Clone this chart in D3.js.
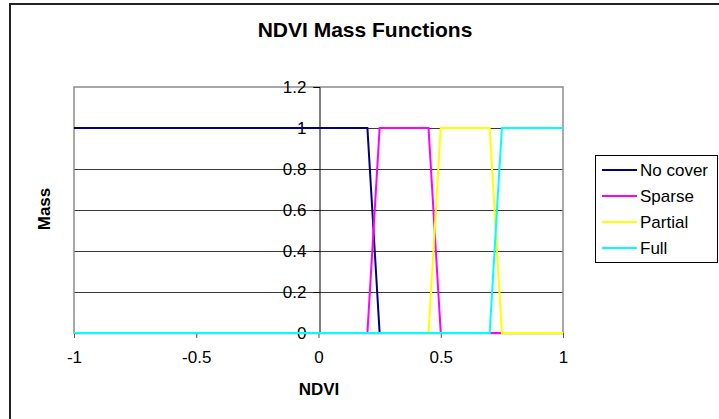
<!DOCTYPE html>
<html><head><meta charset="utf-8">
<script src="https://cdn.jsdelivr.net/npm/d3@7"></script>
<style>body{margin:0;background:#fff}svg{display:block}text{font-family:"Liberation Sans",Arial,sans-serif}</style>
</head><body>
<svg id="c" width="719" height="419"></svg>
<script>
const xTicks = [-1, -0.5, 0, 0.5, 1];
const yTicks = [0, 0.2, 0.4, 0.6, 0.8, 1, 1.2];
const seriesNames = ["No cover", "Sparse", "Partial", "Full"];
const seriesColors = ["#000080", "#FF00FF", "#FFFF00", "#00FFFF"];
const noCover = [[-1,1],[0.2,1],[0.25,0],[1,0]];
const sparse = [[-1,0],[0.2,0],[0.25,1],[0.45,1],[0.5,0],[1,0]];
const partial = [[-1,0],[0.45,0],[0.5,1],[0.7,1],[0.75,0],[1,0]];
const full = [[-1,0],[0.7,0],[0.75,1],[1,1]];
const seriesData = [noCover, sparse, partial, full];

const svg = d3.select("#c");
const L = 74, R = 563, T = 87, B = 333;
const x = d3.scaleLinear().domain([-1,1]).range([L,R]);
const y = d3.scaleLinear().domain([0,1.2]).range([B,T]);

// outer border (left/top visible)
svg.append("rect").attr("x",10).attr("y",4).attr("width",730).attr("height",440)
  .attr("fill","#fff").attr("stroke","#222").attr("stroke-width",2);

// title
svg.append("text").attr("x",365).attr("y",37).attr("text-anchor","middle")
  .attr("font-size",21).attr("font-weight","bold").text("NDVI Mass Functions");

// gridlines
svg.append("g").selectAll("line").data(yTicks.filter(d=>d>0 && d<1.2)).join("line")
  .attr("x1",L).attr("x2",R).attr("y1",d=>Math.round(y(d))+0.5).attr("y2",d=>Math.round(y(d))+0.5)
  .attr("stroke","#3a3a3a").attr("stroke-width",1);

// plot area border
svg.append("rect").attr("x",L).attr("y",T).attr("width",R-L).attr("height",B-T)
  .attr("fill","none").attr("stroke","#8c8c8c").attr("stroke-width",1.5);

// y axis at x=0
const yAxis = d3.axisLeft(y).tickValues(yTicks).tickSize(6).tickPadding(7)
  .tickFormat(d=>d3.format("")(+d.toFixed(1)));
const gy = svg.append("g").attr("transform",`translate(${Math.round(x(0))+0.5},0)`).call(yAxis);
gy.select(".domain").attr("stroke","#000");
gy.selectAll("text").attr("font-size",17).attr("font-family","Liberation Sans, Arial, sans-serif").attr("fill","#000");
gy.selectAll("line").attr("stroke","#000");

// x axis at y=0
const xAxis = d3.axisBottom(x).tickValues(xTicks).tickSize(5).tickPadding(13).tickSizeOuter(0)
  .tickFormat(d=>String(d));
const gx = svg.append("g").attr("transform",`translate(0,${B})`).call(xAxis);
gx.select(".domain").attr("stroke","#8c8c8c").attr("stroke-width",1.5);
gx.selectAll("line").attr("stroke","#555");
gx.selectAll("text").attr("font-size",17).attr("font-family","Liberation Sans, Arial, sans-serif").attr("fill","#000");

// series
const line = d3.line().x(d=>x(d[0])).y(d=>y(d[1]));
seriesData.forEach((s,i)=>{
  svg.append("path").datum(s).attr("d",line).attr("fill","none")
    .attr("stroke",seriesColors[i]).attr("stroke-width",2).attr("stroke-linejoin","miter");
});

// axis titles
svg.append("text").attr("x",319).attr("y",395).attr("text-anchor","middle")
  .attr("font-size",17).attr("font-weight","bold").text("NDVI");
svg.append("text").attr("transform","translate(50,209) rotate(-90)").attr("text-anchor","middle")
  .attr("font-size",17).attr("font-weight","bold").text("Mass");

// legend
const lg = svg.append("g");
lg.append("rect").attr("x",595.5).attr("y",155.5).attr("width",122).attr("height",107)
  .attr("fill","#fff").attr("stroke","#000").attr("stroke-width",1);
seriesNames.forEach((n,i)=>{
  const yy = 170 + i*26;
  lg.append("line").attr("x1",602).attr("x2",637).attr("y1",yy).attr("y2",yy)
    .attr("stroke",seriesColors[i]).attr("stroke-width",2);
  lg.append("text").attr("x",640).attr("y",yy+6).attr("font-size",17).text(n);
});
</script>
</body></html>
